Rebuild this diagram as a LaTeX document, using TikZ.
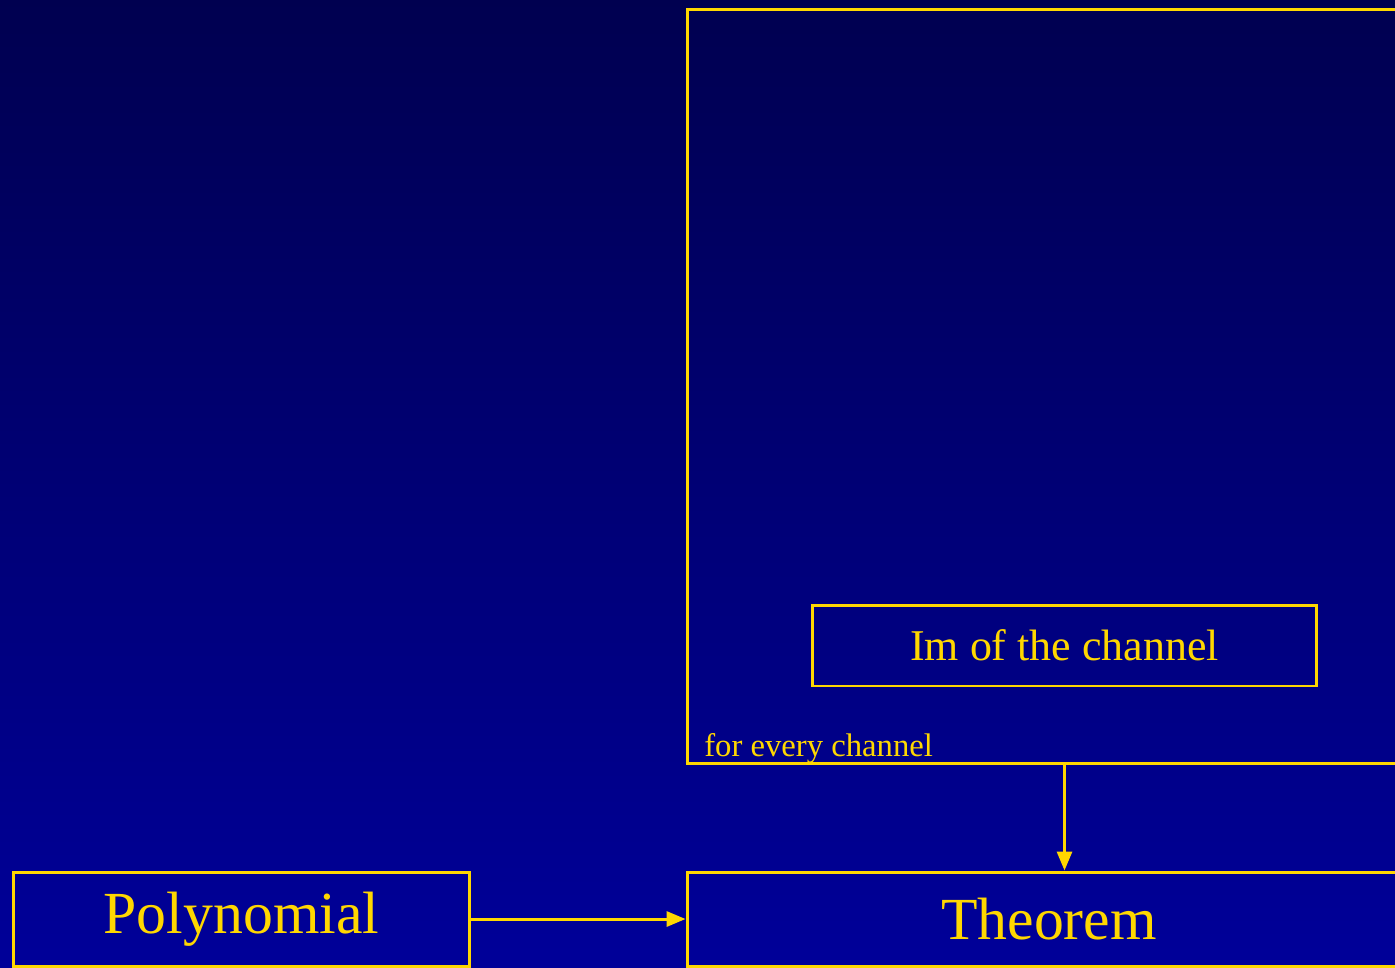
\documentclass[tikz,border=0pt]{standalone}
\usepackage{fontspec}
\setmainfont{Liberation Serif}
\usetikzlibrary{arrows.meta}
\definecolor{navytop}{RGB}{0,0,80}
\definecolor{navybot}{RGB}{0,0,153}
\definecolor{gold}{RGB}{255,215,0}

\begin{document}
\begin{tikzpicture}[x=0.02cm,y=-0.02cm,
    blk/.style={draw=gold,line width=1.7pt,text=gold,inner sep=0pt},
    arr/.style={gold,line width=1.7pt,-{Triangle[length=0.38cm,width=0.3cm]}}]
  \useasboundingbox (0,0) rectangle (1395,967);
  \clip (0,0) rectangle (1395,967);
  \shade[top color=navytop,bottom color=navybot] (0,0) rectangle (1395,967);
  % boxes
  \node[blk,minimum width=14.48cm,minimum height=15.1cm] (chan) at (1049,386.5) {};
  \node[blk,minimum width=10.1cm,minimum height=1.62cm,
        font=\fontsize{25}{30}\selectfont] (im) at (1064.5,645.5) {Im of the channel};
  \node[gold,anchor=base west,inner sep=0pt,
        font=\fontsize{18.6}{22}\selectfont] (every) at (704,756) {for every channel};
  \node[blk,minimum width=9.14cm,minimum height=1.88cm,
        font=\fontsize{34}{40}\selectfont] (poly) at (241.5,919) {Polynomial};
  \node[blk,minimum width=14.48cm,minimum height=1.88cm,
        font=\fontsize{34}{40}\selectfont] (thm) at (1049,919) {Theorem};
  % arrows
  \draw[arr] (poly.east) -- (thm.west);
  \draw[arr] (im.south |- chan.south) -- (im.south |- thm.north);
\end{tikzpicture}
\end{document}
